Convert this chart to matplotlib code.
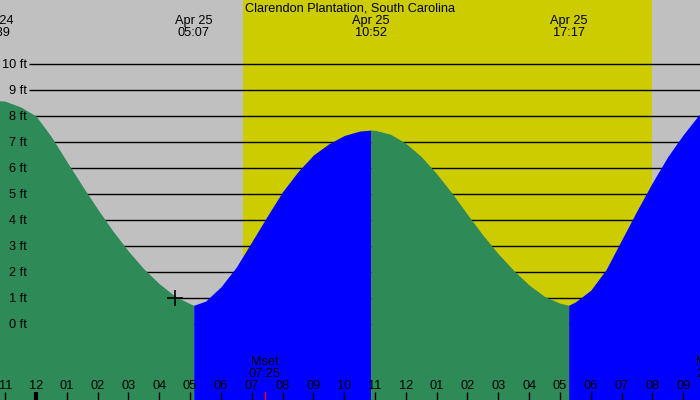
import matplotlib
matplotlib.use("Agg")
import matplotlib.pyplot as plt
import numpy as np

# --- data (hours from 00:00 Apr 25, heights in ft) ---------------------------
TITLE = "Clarendon Plantation, South Carolina"

# tide extremes (labelled along the top)
ext_hours = [-1.35, 5.117, 10.867, 17.283]
ext_labels = ["Apr 24\n22:39", "Apr 25\n05:07", "Apr 25\n10:52", "Apr 25\n17:17"]

# tide curve, read every half hour plus the extremes
tide_hours = [-1.5, -1.35, -1.0, -0.5, 0.0, 0.5, 1.0, 1.5, 2.0, 2.5, 3.0, 3.5,
              4.0, 4.5, 5.0, 5.117,
              5.5, 6.0, 6.5, 7.0, 7.5, 8.0, 8.5, 9.0, 9.5, 10.0, 10.5, 10.867,
              11.0, 11.5, 12.0, 12.5, 13.0, 13.5, 14.0, 14.5, 15.0, 15.5, 16.0,
              16.5, 17.0, 17.283,
              17.5, 18.0, 18.5, 19.0, 19.5, 20.0, 20.5, 21.0, 21.5, 22.0]
tide_ft = [8.59, 8.60, 8.57, 8.35, 8.00, 7.20, 6.25, 5.32, 4.42, 3.57, 2.80, 2.12,
           1.55, 1.08, 0.78, 0.72,
           0.88, 1.43, 2.19, 3.16, 4.14, 5.09, 5.86, 6.50, 6.93, 7.25, 7.42, 7.46,
           7.45, 7.30, 6.95, 6.44, 5.78, 5.03, 4.21, 3.42, 2.70, 2.06, 1.50,
           1.06, 0.80, 0.72,
           0.85, 1.30, 2.10, 3.23, 4.36, 5.44, 6.44, 7.28, 8.03, 8.50]

sunrise, sunset = 6.72, 20.0
moon_hours = [7.417, 21.93]
moon_labels = ["Mset\n07:25", "Mrise\n21:56"]
now_hour, now_ft = 4.51, 1.0

hour_ticks = list(range(-1, 22))
hour_labels = ["11", "12", "01", "02", "03", "04", "05", "06", "07", "08", "09", "10",
               "11", "12", "01", "02", "03", "04", "05", "06", "07", "08", "09"]
grid_ft = list(range(0, 11))

GRAY, YELLOW, GREEN, BLUE = "#c0c0c0", "#cccc00", "#2e8b57", "#0000ff"

plt.rcParams["font.family"] = ["Liberation Sans", "DejaVu Sans"]
FS = 9.2

fig = plt.figure(figsize=(7, 4), dpi=100)
ax = fig.add_axes([0, 0, 1, 1])
# 30.82 px per hour, 26 px per foot; midnight at x=36 px, 0 ft at y=324 px
ax.set_xlim(-36 / 30.82, 664 / 30.82)
ax.set_ylim(-76 / 26, 324 / 26)
ax.axis("off")
fig.patch.set_facecolor(GRAY)
ax.axvspan(sunrise, sunset, color=YELLOW, lw=0, zorder=0)

xt = ax.get_xaxis_transform()
yt = ax.get_yaxis_transform()

# grid lines, hidden under the tide fill
ax.hlines(grid_ft, 29 / 700, 1, transform=yt, color="black", lw=1, zorder=1)
for v in grid_ft:
    ax.text(27 / 700, v - 0.05, f"{v} ft", transform=yt, ha="right", va="center",
            fontsize=FS, zorder=5)

# tide fill: green while falling, blue while rising
t = np.array(tide_hours)
h = np.array(tide_ft)
bounds = [t[0]] + ext_hours + [t[-1]]
for i in range(len(bounds) - 1):
    m = (t >= bounds[i]) & (t <= bounds[i + 1])
    if m.sum() < 2:
        continue
    rising = h[m][-1] > h[m][0]
    ax.fill_between(t[m], -5, h[m], color=BLUE if rising else GREEN, lw=0,
                    zorder=2)

ax.plot([now_hour], [now_ft], marker="+", ms=11, mew=1.2, color="black", zorder=4)

ax.text(0.5, 12.15, TITLE, transform=yt, ha="center", va="center", fontsize=FS,
        zorder=5)
for x, lab in zip(ext_hours, ext_labels):
    ax.text(x, 11.42, lab, ha="center", va="center", fontsize=FS, linespacing=0.95,
            zorder=5)

# hour ticks along the bottom
for x, lab in zip(hour_ticks, hour_labels):
    ax.text(x, 0.035, lab, transform=xt, ha="center", va="center", fontsize=FS,
            zorder=5)
    ax.plot([x, x], [0, 0.02], transform=xt, color="black",
            lw=3 if x == 0 else 1, solid_capstyle="butt", zorder=5)

for x, lab in zip(moon_hours, moon_labels):
    ax.text(x, 0.08, lab, transform=xt, ha="center", va="center", fontsize=FS,
            linespacing=0.95, zorder=5)
    ax.plot([x, x], [0, 0.02], transform=xt, color="red", lw=1, zorder=5)

fig.savefig("out.png", dpi=100, facecolor=GRAY)
